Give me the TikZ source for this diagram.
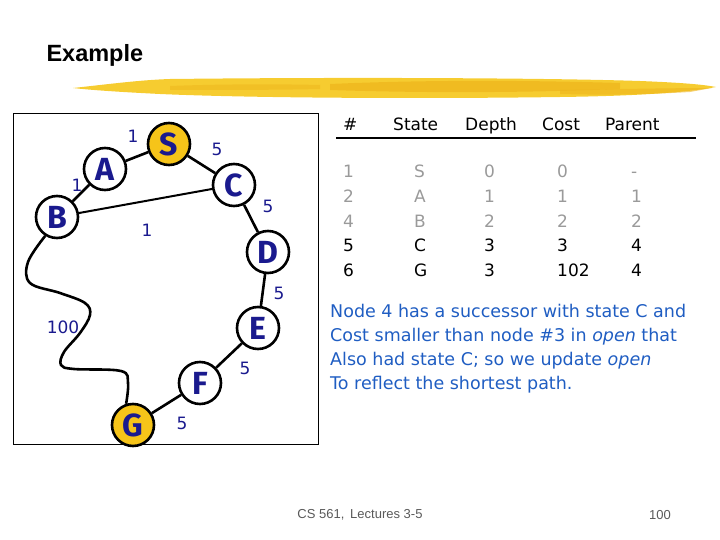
\documentclass[tikz,border=0pt]{standalone}
\usepackage{fontspec}
\setmainfont{DejaVu Sans}
\newfontfamily\titlefont{Liberation Sans}
\newfontfamily\letterfont{Fira Sans}
\usetikzlibrary{positioning}
\definecolor{navyblue}{HTML}{1A1A8E}
\definecolor{goldfill}{HTML}{F6C419}
\definecolor{textblue}{HTML}{1F5DC2}
\definecolor{brushyellow}{HTML}{F6CC30}
\definecolor{brushdark}{HTML}{EEB51C}
\definecolor{rowgray}{HTML}{9A9A9A}

\begin{document}
\begin{tikzpicture}[x=1pt,y=-1pt,
    state/.style={circle,draw,line width=2.6pt,fill=white,minimum size=42pt,inner sep=0pt,
      text=navyblue,font=\letterfont\bfseries\fontsize{32}{32}\selectfont},
    goal/.style={state,fill=goldfill},
    edge/.style={line width=2.6pt},
    cost/.style={text=navyblue,font=\fontsize{17}{17}\selectfont,inner sep=0pt},
    cell/.style={anchor=base west,inner sep=0pt,font=\fontsize{17}{17}\selectfont}]
  \useasboundingbox (0,0) rectangle (720,540);

  % title and brush stroke
  \node[anchor=west,font=\titlefont\bfseries\fontsize{23.5}{23.5}\selectfont] (title) at (43,55) {Example};
  \fill[brushyellow] (73,88) .. controls (110,84) and (140,80) .. (170,79)
    .. controls (350,77) and (550,78) .. (640,81) .. controls (690,83) and (705,85) .. (716,87)
    .. controls (690,92) and (640,96) .. (560,97) .. controls (420,99) and (250,98) .. (160,94)
    .. controls (120,92) and (90,90) .. (73,88) -- cycle;
  \fill[brushdark,opacity=0.7] (330,84) .. controls (420,80) and (520,80) .. (620,83)
    -- (620,89) .. controls (520,93) and (420,93) .. (330,90) -- cycle;
  \fill[brushdark,opacity=0.6] (560,90) .. controls (620,89) and (680,88) .. (712,88)
    -- (690,92) .. controls (640,95) and (600,95) .. (560,94) -- cycle;
  \fill[brushdark,opacity=0.5] (170,86) .. controls (220,84) and (280,84) .. (320,85)
    -- (320,89) .. controls (280,90) and (220,90) .. (170,90) -- cycle;

  % the graph
  \draw[line width=1pt] (13,114) rectangle (318,444);
  \node[goal]  (S) at (169,144) {S};
  \node[state] (A) at (105,169) {A};
  \node[state] (B) at (57,217)  {B};
  \node[state] (C) at (234,185) {C};
  \node[state] (D) at (268,252) {D};
  \node[state] (E) at (258,328) {E};
  \node[state] (F) at (200,383) {F};
  \node[goal]  (G) at (133,425) {G};

  \draw[edge] (A) -- (S);
  \draw[edge] (B) -- (A);
  \draw[edge] (S) -- (C);
  \draw[edge] (C) -- (D);
  \draw[edge] (D) -- (E);
  \draw[edge] (E) -- (F);
  \draw[edge] (F) -- (G);
  \draw[line width=2pt] (B) -- (C);
  \draw[edge] plot[smooth,tension=0.6] coordinates {
    (B.238) (28,262) (30,283) (60,293) (85,303) (90,315)
    (80,333) (64,352) (61,365) (74,369) (121,371) (128,383) (G.108)
  };

  \node[cost] (cSA) at (133,136) {1};
  \node[cost] (cAB) at (77,185)  {1};
  \node[cost] (cSC) at (217,149) {5};
  \node[cost] (cCD) at (268,206) {5};
  \node[cost] (cBC) at (147,230) {1};
  \node[cost] (cDE) at (279,293) {5};
  \node[cost] (cBG) at (63,327)  {100};
  \node[cost] (cEF) at (245,368) {5};
  \node[cost] (cFG) at (182,423) {5};

  % open list
  \foreach \x/\h [count=\k] in {343/\#,393/State,465/Depth,542/Cost,605/Parent}
    \node[cell] (h\k) at (\x,131) {\h};
  \draw[line width=2pt] (336,138) -- (696,138);
  \foreach \n/\s/\d/\c/\p/\col [count=\i] in
      {1/S/0/0/-/rowgray, 2/A/1/1/1/rowgray, 4/B/2/2/2/rowgray, 5/C/3/3/4/black, 6/G/3/102/4/black} {
    \node[cell,text=\col] (n\i) at (343,{178+24.5*(\i-1)}) {\n};
    \node[cell,text=\col] (s\i) at (414,{178+24.5*(\i-1)}) {\s};
    \node[cell,text=\col] (d\i) at (484,{178+24.5*(\i-1)}) {\d};
    \node[cell,text=\col] (c\i) at (557,{178+24.5*(\i-1)}) {\c};
    \node[cell,text=\col] (p\i) at (631,{178+24.5*(\i-1)}) {\p};
  }

  \node[anchor=north west,align=left,text=textblue,inner sep=0pt,
        font=\fontsize{17.5}{24}\selectfont] (note) at (330,304)
    {Node 4 has a successor with state C and\\
     Cost smaller than node \#3 in \textit{open} that\\
     Also had state C; so we update \textit{open}\\
     To reflect the shortest path.};

  % footer
  \node[text=black!65,font=\titlefont\fontsize{13}{13}\selectfont] (course) at (360,515) {CS 561,\, Lectures 3-5};
  \node[text=black!65,font=\titlefont\fontsize{13}{13}\selectfont] (page) at (660,515) {100};
\end{tikzpicture}
\end{document}
